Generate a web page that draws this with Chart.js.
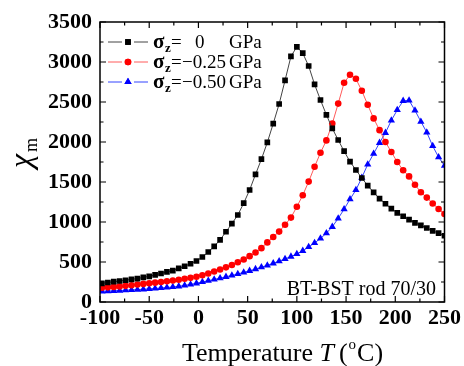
<!DOCTYPE html>
<html>
<head>
<meta charset="utf-8">
<script src="https://cdn.jsdelivr.net/npm/chart.js@4.4.1/dist/chart.umd.min.js"></script>
<style>
	html, body { margin: 0; padding: 0; background: #fff; }
	#wrap { width: 464px; height: 366px; }
</style>
</head>
<body>
<div id="wrap"><canvas id="chart" width="464" height="366"></canvas></div>
<script>
// temperature (°C) of every measured point
var temps = [-98, -92, -86, -80, -74, -68, -62, -56, -50, -44,
	-38, -32, -26, -20, -14, -8, -2, 4, 10, 16,
	22, 28, 34, 40, 46, 52, 58, 64, 70, 76,
	82, 88, 94, 100, 106, 112, 118, 124, 130, 136,
	142, 148, 154, 160, 166, 172, 178, 184, 190, 196,
	202, 208, 214, 220, 226, 232, 238, 244, 250];

// chi_m for sigma_z = 0 GPa
var chi_0 = [232, 244, 254, 262, 272, 283, 293, 307, 321, 340,
	356, 376, 393, 420, 447, 478, 513, 562, 625, 695,
	776, 878, 980, 1087, 1235, 1400, 1595, 1785, 1995, 2230,
	2475, 2770, 3070, 3190, 3110, 2950, 2720, 2525, 2340, 2170,
	2025, 1885, 1755, 1650, 1550, 1455, 1370, 1292, 1228, 1168,
	1115, 1072, 1030, 990, 958, 925, 890, 860, 828];

// chi_m for sigma_z = -0.25 GPa
var chi_025 = [178, 183, 189, 195, 202, 210, 218, 226, 234, 242,
	250, 259, 269, 279, 290, 302, 316, 334, 356, 382,
	407, 433, 462, 496, 532, 573, 619, 673, 745, 813,
	880, 966, 1055, 1190, 1335, 1505, 1690, 1865, 2020, 2230,
	2480, 2740, 2840, 2790, 2640, 2465, 2295, 2148, 2000, 1875,
	1750, 1646, 1570, 1465, 1372, 1305, 1232, 1162, 1100];

// chi_m for sigma_z = -0.50 GPa
var chi_050 = [134, 137, 140, 143, 147, 151, 155, 159, 164, 169,
	175, 181, 188, 196, 208, 220, 234, 250, 266, 282,
	298, 315, 332, 350, 370, 390, 412, 435, 458, 484,
	510, 538, 568, 600, 640, 688, 738, 794, 860, 940,
	1045, 1160, 1285, 1400, 1555, 1720, 1855, 1990, 2115, 2270,
	2400, 2515, 2520, 2395, 2255, 2120, 1950, 1810, 1705];

var x_ticks = [-100, -50, 0, 50, 100, 150, 200, 250];
var y_ticks = [0, 500, 1000, 1500, 2000, 2500, 3000, 3500];
var legend_values = ["0", "\u22120.25", "\u22120.50"];

var serif = "'Liberation Serif', 'DejaVu Serif', serif";

function points(values) {
	return values.map(function (v, i) { return { x: temps[i], y: v }; });
}

var series = [
	{ data: chi_0, marker: "#000000", line: "#444444", style: "rect", radius: 4 },
	{ data: chi_025, marker: "#ff0000", line: "#ff5a5a", style: "circle", radius: 3.3 },
	{ data: chi_050, marker: "#0000ff", line: "#3344ff", style: "triangle", radius: 4.2 }
];

var datasets = series.map(function (s) {
	return {
		data: points(s.data),
		borderColor: s.line,
		borderWidth: 1,
		backgroundColor: s.marker,
		pointBackgroundColor: s.marker,
		pointBorderColor: s.marker,
		pointBorderWidth: 0,
		pointStyle: s.style,
		pointRadius: s.radius,
		tension: 0,
		fill: false
	};
});

var decor = {
	id: "decor",
	afterDraw: function (chart) {
		var ctx = chart.ctx;
		var a = chart.chartArea;
		var xs = chart.scales.x;
		var ys = chart.scales.y;

		ctx.save();
		ctx.strokeStyle = "#000";
		ctx.lineWidth = 1.5;
		ctx.strokeRect(a.left, a.top, a.right - a.left, a.bottom - a.top);

		// inward ticks on all four sides
		ctx.lineWidth = 1.2;
		ctx.beginPath();
		for (var t = -100; t <= 250; t += 25) {
			var px = xs.getPixelForValue(t);
			var len = (t % 50 === 0) ? 6 : 3.5;
			ctx.moveTo(px, a.bottom); ctx.lineTo(px, a.bottom - len);
			ctx.moveTo(px, a.top); ctx.lineTo(px, a.top + len);
		}
		for (var v = 0; v <= 3500; v += 250) {
			var py = ys.getPixelForValue(v);
			var len2 = (v % 500 === 0) ? 6 : 3.5;
			ctx.moveTo(a.left, py); ctx.lineTo(a.left + len2, py);
			ctx.moveTo(a.right, py); ctx.lineTo(a.right - len2, py);
		}
		ctx.stroke();

		// legend
		ctx.textBaseline = "alphabetic";
		ctx.textAlign = "left";
		for (var i = 0; i < series.length; i++) {
			var s = series[i];
			var ry = 42 + i * 20;
			ctx.strokeStyle = s.line;
			ctx.lineWidth = 1;
			ctx.beginPath();
			ctx.moveTo(108, ry); ctx.lineTo(122, ry);
			ctx.moveTo(134, ry); ctx.lineTo(148, ry);
			ctx.stroke();
			ctx.fillStyle = s.marker;
			ctx.beginPath();
			Chart.helpers.drawPoint(ctx, { pointStyle: s.style, radius: s.radius, rotation: 0, borderWidth: 0 }, 128, ry);
			ctx.fill();

			ctx.fillStyle = "#000";
			var by = ry + 6;
			ctx.font = "bold 21px " + serif;
			ctx.fillText("\u03c3", 153, by);
			ctx.font = "bold 13px " + serif;
			ctx.fillText("z", 165, by + 4);
			ctx.font = "19px " + serif;
			ctx.fillText("=", 171, by);
			if (i === 0) {
				ctx.fillText("0", 195, by);
			} else {
				ctx.fillText(legend_values[i], 182, by);
			}
			ctx.fillText("GPa", 229, by);
		}

		// sample label
		ctx.font = "20px " + serif;
		ctx.textAlign = "right";
		ctx.fillText("BT-BST rod 70/30", 436, 295);

		// x title
		ctx.textAlign = "left";
		var tx = 182, ty = 361;
		ctx.font = "26px " + serif;
		ctx.fillText("Temperature ", tx, ty);
		tx += ctx.measureText("Temperature ").width;
		ctx.font = "italic 26px " + serif;
		ctx.fillText("T", tx, ty);
		tx += ctx.measureText("T").width + 5;
		ctx.font = "26px " + serif;
		ctx.fillText("(", tx, ty);
		tx += ctx.measureText("(").width + 1;
		ctx.font = "15px " + serif;
		ctx.fillText("o", tx, ty - 12);
		tx += ctx.measureText("o").width + 1;
		ctx.font = "26px " + serif;
		ctx.fillText("C)", tx, ty);

		// y title
		ctx.translate(31, 168);
		ctx.rotate(-Math.PI / 2);
		ctx.font = "italic 32px " + serif;
		ctx.fillText("\u03c7", 0, 0);
		ctx.font = "18px " + serif;
		ctx.fillText("m", 16, 6);
		ctx.restore();
	}
};

var chart = new Chart(document.getElementById("chart").getContext("2d"), {
	type: "line",
	data: { datasets: datasets },
	options: {
		responsive: false,
		animation: false,
		layout: { padding: { left: 0, right: 17, top: 22, bottom: 0 } },
		plugins: { legend: { display: false }, tooltip: { enabled: false } },
		scales: {
			x: {
				type: "linear",
				min: -100,
				max: 250,
				grid: { display: false, drawTicks: false },
				border: { display: false },
				afterBuildTicks: function (scale) {
					scale.ticks = x_ticks.map(function (v) { return { value: v }; });
				},
				afterFit: function (scale) { scale.height = 64; },
				ticks: {
					color: "#000",
					padding: 3,
					maxRotation: 0,
					font: { family: serif, size: 22, weight: "bold" },
					callback: function (v) { return String(v); }
				}
			},
			y: {
				min: 0,
				max: 3500,
				grid: { display: false, drawTicks: false },
				border: { display: false },
				afterBuildTicks: function (scale) {
					scale.ticks = y_ticks.map(function (v) { return { value: v }; });
				},
				afterFit: function (scale) { scale.width = 100; },
				ticks: {
					color: "#000",
					padding: 8,
					font: { family: serif, size: 22, weight: "bold" },
					callback: function (v) { return String(v); }
				}
			}
		}
	},
	plugins: [decor]
});

window.chart = chart;
</script>
</body>
</html>
